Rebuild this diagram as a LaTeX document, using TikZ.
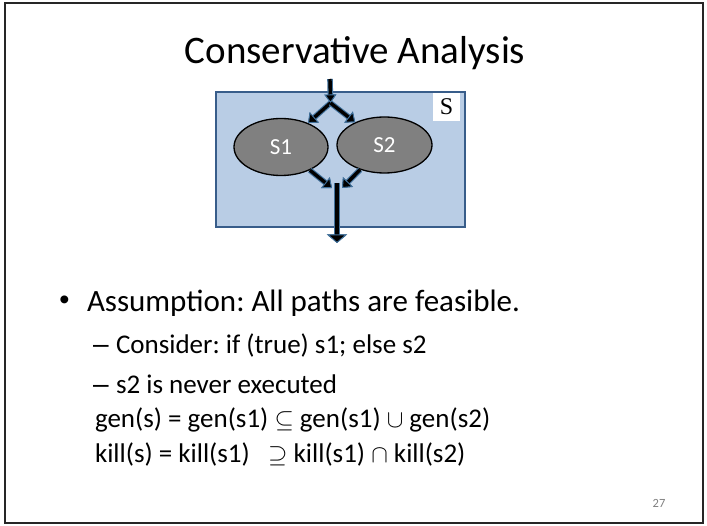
\documentclass[tikz,border=0pt]{standalone}
\usepackage{fontspec}
\setmainfont{Carlito}
\newfontfamily\serifS{Liberation Serif}
\newfontfamily\arialish{Liberation Sans}
\usetikzlibrary{arrows.meta,shapes.geometric}
\definecolor{boxfill}{HTML}{B9CDE5}
\definecolor{boxline}{HTML}{385D8A}
\definecolor{arrline}{HTML}{41719C}
\definecolor{ellfill}{HTML}{808080}
\definecolor{pgnum}{HTML}{7F7F7F}
\frenchspacing
\begin{document}
\begin{tikzpicture}[x=1pt,y=-1pt,
  txt/.style={inner sep=0pt, outer sep=0pt, anchor=base west},
  lvlone/.style={txt, font=\fontsize{31}{36}\selectfont},
  lvltwo/.style={txt, font=\fontsize{27}{32}\selectfont},
  dashmark/.style={txt, font=\arialish\fontsize{28}{32}\selectfont},
  ell/.style={ellipse, draw=black, line width=1.3pt, fill=ellfill, text=white,
    minimum width=94pt, minimum height=57pt, inner sep=0pt, font=\fontsize{23}{26}\selectfont},
  blockarr/.style={line width=3.4pt, draw=black,
    -{Triangle[length=8.5pt,width=#1,fill=black,color=arrline,line width=0.9pt]},
    preaction={draw=arrline, line width=5.6pt,
      -{Triangle[length=8.5pt,width=#1,fill=black,color=arrline,line width=0.9pt]}}},
  blockarr/.default=14pt]
\useasboundingbox (0,0) rectangle (707,526);
% slide frame
\draw[line width=1.5pt, draw=black!85] (5,3) rectangle (703,523);
% title
\node[inner sep=0pt, anchor=base, font=\fontsize{39}{46}\selectfont] (title) at (355,64) {Conservative Analysis};
% statement box
\draw[fill=boxfill, draw=boxline, line width=1.2pt] (216,92) rectangle (465,227);
\node[fill=white, minimum width=27pt, minimum height=28pt, inner sep=0pt,
      font=\serifS\fontsize{24}{26}\selectfont] (slabel) at (446.5,107) {S};
\node[ell] (s1) at (281,147) {S1};
\node[ell, minimum width=95pt, minimum height=56pt] (s2) at (384.5,145) {S2};
% connector points
\coordinate (top) at (330,79);
\coordinate (split) at (330.5,103);
\coordinate (jl) at (332,188);
\coordinate (jr) at (342,188);
\coordinate (bstart) at (337,183);
\coordinate (bend) at (337,243);
% arrows
\draw[blockarr=12pt] (top) -- (split);
\draw[blockarr] (split) -- (s1);
\draw[blockarr] (split) -- (s2);
\draw[blockarr] (s1) -- (jl);
\draw[blockarr] (s2) -- (jr);
\draw[blockarr=20pt] (bstart) -- (bend);
% bullet text
\node[inner sep=0pt, font=\arialish\fontsize{29}{32}\selectfont] (bul) at (64.5,303) {•};
\node[lvlone] (l1) at (87,312) {Assumption: All paths are feasible.};
\node[dashmark] (d2) at (93,354) {–};
\node[lvltwo] (l2) at (116,354) {Consider: if (true) s1; else s2};
\node[dashmark] (d3) at (93,394) {–};
\node[lvltwo] (l3) at (116,394) {s2 is never executed};
\node[lvltwo] (l4) at (95,428) {gen(s) = gen(s1) $\subseteq$ gen(s1) $\cup$ gen(s2)};
\node[lvltwo] (l5) at (95,462) {kill(s) = kill(s1) \ \ $\supseteq$ kill(s1) $\cap$ kill(s2)};
% page number
\node[inner sep=0pt, text=pgnum, font=\fontsize{12.5}{14}\selectfont] (pg) at (659,503) {27};
\end{tikzpicture}
\end{document}
